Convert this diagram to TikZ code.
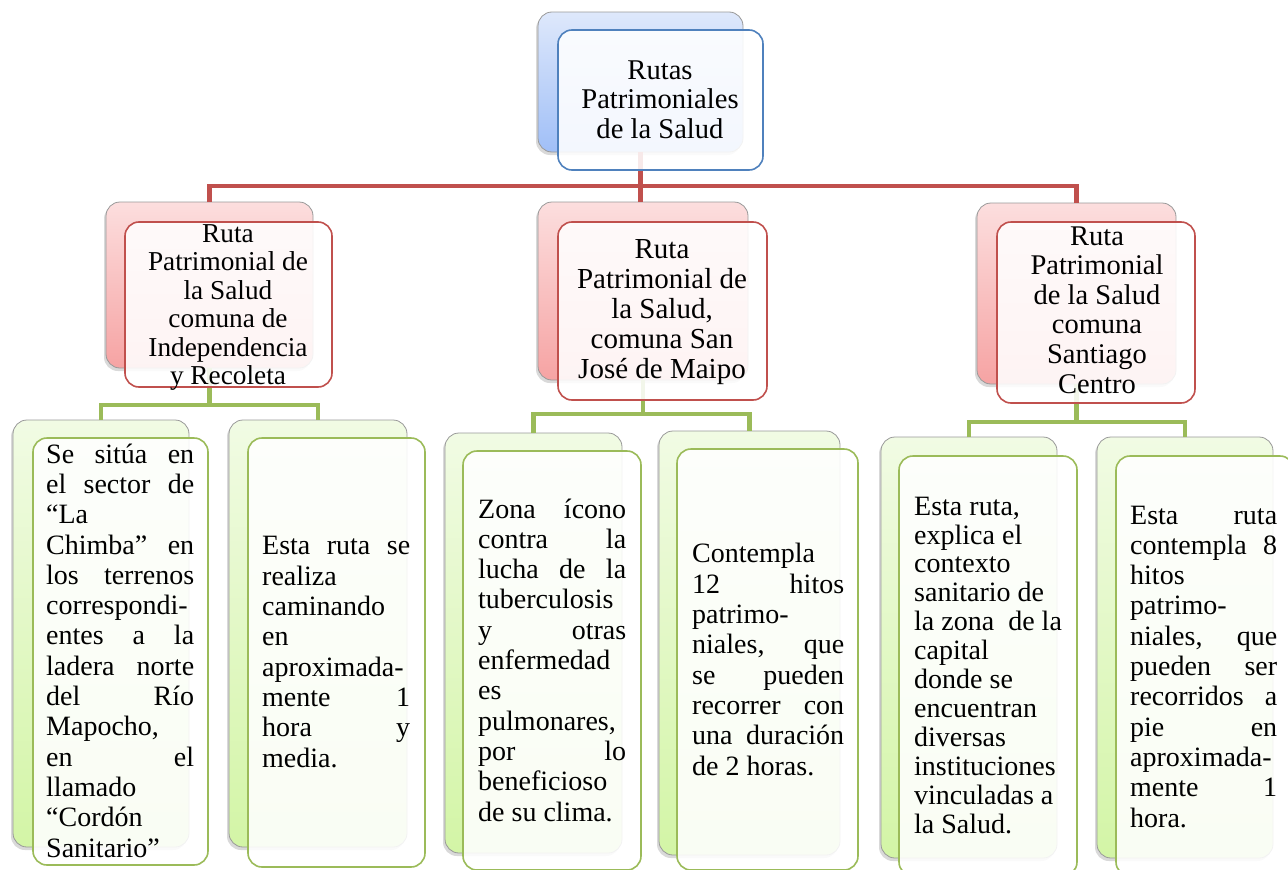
\documentclass[tikz,border=0pt]{standalone}
\usepackage{fontspec}
\setmainfont{Liberation Serif}
\usepackage{xcolor}
\usepackage{tikz}
\usetikzlibrary{shadows}

\definecolor{blueTop}{HTML}{DEE8FB}
\definecolor{blueBot}{HTML}{A0BFF7}
\definecolor{redTop}{HTML}{FCDEDE}
\definecolor{redBot}{HTML}{F6A3A3}
\definecolor{greenTop}{HTML}{F1FBE4}
\definecolor{greenBot}{HTML}{D3F5A6}
\definecolor{rutablue}{HTML}{4F81BD}
\definecolor{rutared}{HTML}{C0504D}
\definecolor{rutagreen}{HTML}{9BBB59}

\newlength{\linew}
\newcommand{\jl}[1]{\makebox[\linew][s]{#1}}

\begin{document}
\begin{tikzpicture}[x=1pt,y=-1pt,
  boxshape/.style={rectangle,rounded corners=14pt,inner sep=0pt,outer sep=0pt},
  backbox/.style={boxshape,draw=black!40,line width=0.8pt,
    drop shadow={shadow xshift=-2pt,shadow yshift=-3pt,opacity=0.3}},
  frontbox/.style={boxshape,line width=1.6pt,fill=white,fill opacity=0.88},
  blueback/.style={backbox,top color=blueTop,bottom color=blueBot},
  redback/.style={backbox,top color=redTop,bottom color=redBot},
  greenback/.style={backbox,top color=greenTop,bottom color=greenBot},
  bluefront/.style={frontbox,draw=rutablue},
  redfront/.style={frontbox,draw=rutared},
  greenfront/.style={frontbox,draw=rutagreen},
  redline/.style={rutared,line width=4.5pt},
  greenline/.style={rutagreen,line width=4.5pt},
  headtext/.style={align=center,inner sep=0pt,anchor=base},
  leaftext/.style={align=left,inner sep=0pt,anchor=base west,
    font=\fontsize{28}{30.3}\selectfont,
    execute at begin node={\setlength{\linew}{#1}}}]

  \path[use as bounding box,clip] (0,0) rectangle (1288,870);

  % back boxes
  \node[blueback,minimum width=205pt,minimum height=140pt] (rootB) at (640.5,82) {};
  \node[redback,minimum width=207pt,minimum height=166pt] (l2aB) at (209.5,285) {};
  \node[redback,minimum width=210pt,minimum height=178pt] (l2bB) at (643,291) {};
  \node[redback,minimum width=199pt,minimum height=181pt] (l2cB) at (1076.5,293.5) {};
  \foreach \nm/\cx/\cy/\w/\h in {la1B/101/633.5/176/427, la2B/318/633.5/178/427,
      lb1B/533.5/643/177/420, lb2B/749.5/643/181/424,
      lc1B/969/647.5/176/421, lc2B/1185/647.5/176/421}
    \node[greenback,minimum width=\w pt,minimum height=\h pt] (\nm) at (\cx,\cy) {};

  % connectors
  \coordinate (redbus) at (642,186);
  \draw[redline] (l2aB.north) |- (redbus) -| (l2cB.north);
  \draw[redline] (rootB.south) -- (rootB.south |- l2bB.north);
  \coordinate (busA) at (209.5,405);
  \coordinate (busB) at (643,414);
  \coordinate (busC) at (1076.5,422);
  \draw[greenline] (l2aB.south) -- (busA);
  \draw[greenline] (la1B.north) |- (busA) -| (la2B.north);
  \draw[greenline] (l2bB.south) -- (busB);
  \draw[greenline] (lb1B.north) |- (busB) -| (lb2B.north);
  \draw[greenline] (l2cB.south) -- (busC);
  \draw[greenline] (lc1B.north) |- (busC) -| (lc2B.north);

  % front boxes
  \node[bluefront,minimum width=205pt,minimum height=140pt] (rootF) at (660.5,100) {};
  \node[redfront,minimum width=207pt,minimum height=165pt] (l2aF) at (228.5,304.5) {};
  \node[redfront,minimum width=209pt,minimum height=178pt] (l2bF) at (662.5,311) {};
  \node[redfront,minimum width=198pt,minimum height=181pt] (l2cF) at (1096,312.5) {};
  \foreach \nm/\cx/\cy/\w/\h in {la1F/120.5/651.5/175/427, la2F/336.5/652.5/177/429,
      lb1F/552/660.5/178/419, lb2F/767.5/659.5/181/421,
      lc1F/988/666/178/420, lc2F/1205/666/178/420}
    \node[greenfront,minimum width=\w pt,minimum height=\h pt] (\nm) at (\cx,\cy) {};

  % texts (anchored at the baseline of the last line)
  \node[headtext,font=\fontsize{28.6}{29.5}\selectfont] (rootT) at (660,138)
    {Rutas\\Patrimoniales\\de la Salud};
  \node[headtext,font=\fontsize{27.3}{28.5}\selectfont] (l2aT) at (228,384.5)
    {Ruta\\Patrimonial de\\la Salud\\comuna de\\Independencia\\y Recoleta};
  \node[headtext,font=\fontsize{29}{30}\selectfont] (l2bT) at (662,378)
    {Ruta\\Patrimonial de\\la Salud,\\comuna San\\José de Maipo};
  \node[headtext,font=\fontsize{28.5}{29.6}\selectfont] (l2cT) at (1097,393)
    {Ruta\\Patrimonial\\de la Salud\\comuna\\Santiago\\Centro};

  \node[leaftext=148pt] (la1T) at (46,857)
    {\jl{Se sitúa en}\\\jl{el sector de}\\“La\\\jl{Chimba” en}\\\jl{los terrenos}\\
     correspondi-\\\jl{entes a la}\\\jl{ladera norte}\\\jl{del Río}\\Mapocho,\\
     \jl{en el}\\llamado\\“Cordón\\Sanitario”};
  \node[leaftext=148pt] (la2T) at (262,767)
    {\jl{Esta ruta se}\\realiza\\caminando\\en\\aproximada-\\\jl{mente 1}\\\jl{hora y}\\media.};
  \node[leaftext=148pt] (lb1T) at (478,821)
    {\jl{Zona ícono}\\\jl{contra la}\\\jl{lucha de la}\\tuberculosis\\\jl{y otras}\\
     enfermedad\\es\\pulmonares,\\\jl{por lo}\\beneficioso\\de su clima.};
  \node[leaftext=152pt] (lb2T) at (692,775)
    {Contempla\\\jl{12 hitos}\\patrimo-\\\jl{niales, que}\\\jl{se pueden}\\
     \jl{recorrer con}\\\jl{una duración}\\de 2 horas.};
  \node[leaftext=148pt,font=\fontsize{28}{28.9}\selectfont] (lc1T) at (914,833)
    {Esta ruta,\\explica el\\contexto\\sanitario de\\la zona \ de la\\capital\\
     donde se\\encuentran\\diversas\\instituciones\\vinculadas a\\la Salud.};
  \node[leaftext=147pt] (lc2T) at (1130,827)
    {\jl{Esta ruta}\\\jl{contempla 8}\\hitos\\patrimo-\\\jl{niales, que}\\\jl{pueden ser}\\
     \jl{recorridos a}\\\jl{pie en}\\aproximada-\\\jl{mente 1}\\hora.};
\end{tikzpicture}
\end{document}
